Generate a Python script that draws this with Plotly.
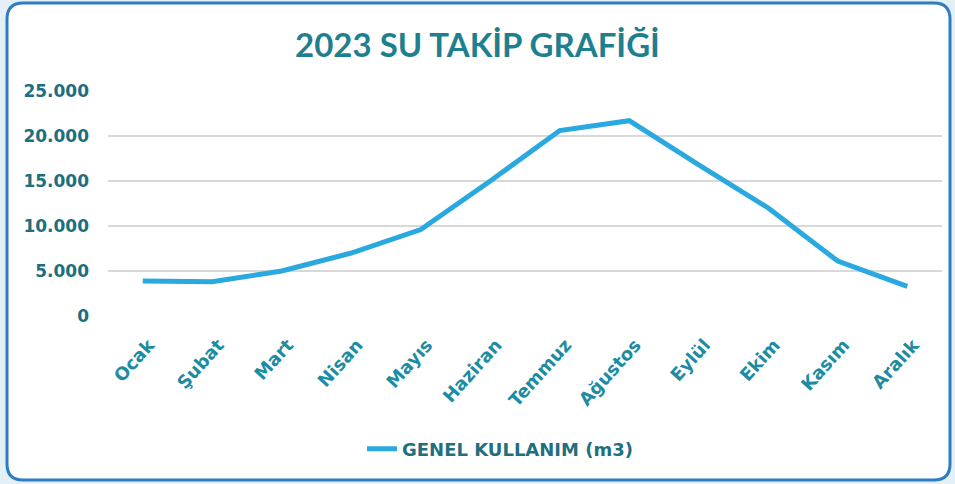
import plotly.graph_objects as go

months = ["Ocak", "Şubat", "Mart", "Nisan", "Mayıs", "Haziran", "Temmuz",
          "Ağustos", "Eylül", "Ekim", "Kasım", "Aralık"]
usage = [3900, 3800, 5000, 7000, 9600, 15000, 20600, 21700, 16800, 12000, 6100, 3300]
series_name = "GENEL KULLANIM (m3)"
title_text = "2023 SU TAKİP GRAFİĞİ"
y_ticks = [0, 5000, 10000, 15000, 20000, 25000]

W, H = 955, 484
ML, MR, MT, MB = 108, 13, 91, 168
PW, PH = W - ML - MR, H - MT - MB

def px(x):
    return (x - ML) / PW

def py(y):
    return (H - MB - y) / PH

# rounded frame path (pixel coords -> paper)
x0, x1, y0, y1, r = 7, 950, 3, 480, 16
pts = (f"M {px(x0 + r)},{py(y0)} L {px(x1 - r)},{py(y0)} "
       f"Q {px(x1)},{py(y0)} {px(x1)},{py(y0 + r)} "
       f"L {px(x1)},{py(y1 - r)} Q {px(x1)},{py(y1)} {px(x1 - r)},{py(y1)} "
       f"L {px(x0 + r)},{py(y1)} Q {px(x0)},{py(y1)} {px(x0)},{py(y1 - r)} "
       f"L {px(x0)},{py(y0 + r)} Q {px(x0)},{py(y0)} {px(x0 + r)},{py(y0)} Z")

fig = go.Figure()
fig.add_trace(go.Scatter(
    x=months, y=usage, mode="lines", name=series_name,
    line=dict(color="#29a9df", width=5),
))

title_font = "Lato, Century Gothic, sans-serif"
tick_font = "DejaVu Sans, Century Gothic, sans-serif"

fig.update_layout(
    width=W, height=H,
    margin=dict(l=ML, r=MR, t=MT, b=MB, autoexpand=False),
    paper_bgcolor="#e4f0f8",
    plot_bgcolor="rgba(0,0,0,0)",
    separators=",.",
    title=dict(text=f"<b>{title_text}</b>", x=0.5, xref="container", xanchor="center",
               y=1 - 45 / H, yref="container", yanchor="middle",
               font=dict(family=title_font, size=33, color="#1e7f8e")),
    showlegend=True,
    legend=dict(orientation="h", x=px(500), xanchor="center", xref="paper",
                y=py(449), yanchor="middle", yref="paper",
                font=dict(family=tick_font, size=18, color="#1f6f80", weight="bold"),
                bgcolor="rgba(0,0,0,0)"),
    shapes=[dict(type="path", path=pts, xref="paper", yref="paper",
                 fillcolor="white", line=dict(color="#2f7dc0", width=3), layer="below")],
    xaxis=dict(range=[-0.5, 11.5], showgrid=False, showline=False, ticks="",
               tickangle=-48, automargin=False,
               tickfont=dict(family=tick_font, size=18, color="#1b8ca2", weight="bold"),
               ticklabelstandoff=14, ticklabelshift=6, fixedrange=True),
    yaxis=dict(range=[0, 25000], tickvals=y_ticks, tickformat=",d", automargin=False,
               showgrid=True, gridcolor="#d9d9d9", gridwidth=1.5,
               zeroline=False, showline=False, ticks="",
               tickfont=dict(family=tick_font, size=17, color="#1b6f7e", weight="bold"),
               ticklabelstandoff=18, fixedrange=True),
)

fig.write_html("out.html", post_script="document.body.style.margin='0';",
               config={"displayModeBar": False})
